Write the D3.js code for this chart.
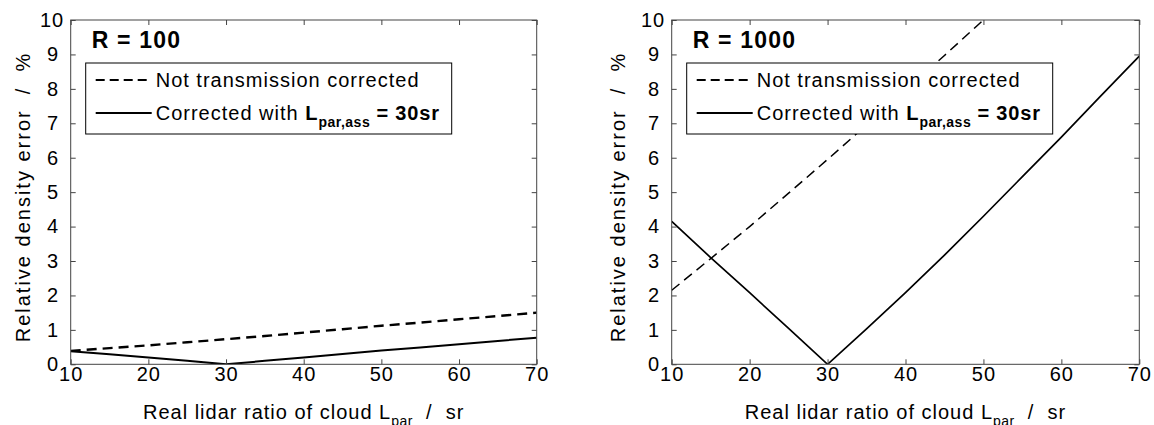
<!DOCTYPE html>
<html>
<head>
<meta charset="utf-8">
<script src="https://cdn.jsdelivr.net/npm/d3@7"></script>
<style>
  html, body { margin: 0; padding: 0; background: #fff; }
  svg { display: block; font-family: "Liberation Sans", Arial, sans-serif; }
</style>
</head>
<body>
<svg id="fig" width="1154" height="425"></svg>
<script>
// Real lidar ratio of the cloud (sr) at which the error was evaluated
const lidarRatio = [10, 15, 20, 25, 30, 35, 40, 45, 50, 55, 60, 65, 70];

// R = 100: relative density error (%)
const r100Uncorrected = [0.39, 0.47, 0.55, 0.64, 0.73, 0.82, 0.92, 1.02, 1.12, 1.21, 1.31, 1.40, 1.50];
const r100Corrected   = [0.38, 0.29, 0.20, 0.10, 0.00, 0.10, 0.20, 0.30, 0.40, 0.49, 0.58, 0.68, 0.77];

// R = 1000: relative density error (%)
const r1000Uncorrected = [2.15, 3.07, 4.00, 4.97, 5.95, 6.95, 7.95, 8.97, 10.0, 11.05, 12.1, 13.15, 14.2];
const r1000Corrected   = [4.15, 3.10, 2.08, 1.04, 0.00, 1.03, 2.08, 3.17, 4.30, 5.45, 6.60, 7.78, 8.95];

const xTicks = [10, 20, 30, 40, 50, 60, 70];
const yTicks = [0, 1, 2, 3, 4, 5, 6, 7, 8, 9, 10];

const panels = [
  { title: "R = 100",  left: 70.7,  right: 536.7,  uncorrected: r100Uncorrected,  corrected: r100Corrected,
    dashW: 2.4, solidW: 2.0, yTitleOff: 41 },
  { title: "R = 1000", left: 671.7, right: 1139.3, uncorrected: r1000Uncorrected, corrected: r1000Corrected,
    dashW: 1.5, solidW: 1.7, yTitleOff: 47 }
];

const plotTop = 20, plotBottom = 364.3;
const svg = d3.select("#fig");
const axisColor = "#444";
const tickLen = 5;
const fontSize = 20, spacing = 1;

panels.forEach((p, i) => {
  const x = d3.scaleLinear().domain([10, 70]).range([p.left, p.right]);
  const y = d3.scaleLinear().domain([0, 10]).range([plotBottom, plotTop]);
  const g = svg.append("g");

  const clipId = "clip" + i;
  svg.append("clipPath").attr("id", clipId)
    .append("rect").attr("x", p.left).attr("y", plotTop)
    .attr("width", p.right - p.left).attr("height", plotBottom - plotTop);

  // data lines
  const line = d3.line().x((d, k) => x(lidarRatio[k])).y(d => y(d));
  g.append("path").datum(p.uncorrected)
    .attr("clip-path", `url(#${clipId})`)
    .attr("d", line).attr("fill", "none").attr("stroke", "#000")
    .attr("stroke-width", p.dashW).attr("stroke-dasharray", "10,6");
  g.append("path").datum(p.corrected)
    .attr("clip-path", `url(#${clipId})`)
    .attr("d", line).attr("fill", "none").attr("stroke", "#000")
    .attr("stroke-width", p.solidW);

  // axes with inward ticks on all four sides
  const bottomAxis = d3.axisBottom(x).tickValues(xTicks).tickSize(-tickLen).tickPadding(2).tickFormat(d3.format("d"));
  const topAxis = d3.axisTop(x).tickValues(xTicks).tickSize(-tickLen).tickFormat("");
  const leftAxis = d3.axisLeft(y).tickValues(yTicks).tickSize(-tickLen).tickPadding(11.5).tickFormat(d3.format("d"));
  const rightAxis = d3.axisRight(y).tickValues(yTicks).tickSize(-tickLen).tickFormat("");

  const styleAxis = sel => {
    sel.selectAll("path, line").attr("stroke", axisColor).attr("stroke-width", 1);
    sel.selectAll("text").attr("fill", "#000").attr("font-size", fontSize)
      .attr("letter-spacing", spacing)
      .attr("font-family", "'Liberation Sans', Arial, sans-serif");
    sel.select(".domain").remove();
  };
  g.append("g").attr("transform", `translate(0,${plotBottom})`).call(bottomAxis).call(styleAxis);
  g.append("g").attr("transform", `translate(0,${plotTop})`).call(topAxis).call(styleAxis);
  const yAxisG = g.append("g").attr("transform", `translate(${p.left},0)`).call(leftAxis).call(styleAxis);
  // the two-digit top label sits closer to the axis
  yAxisG.selectAll(".tick text").filter(d => d >= 10).attr("x", -6.5);
  g.append("g").attr("transform", `translate(${p.right},0)`).call(rightAxis).call(styleAxis);

  // frame
  g.append("rect").attr("x", p.left).attr("y", plotTop)
    .attr("width", p.right - p.left).attr("height", plotBottom - plotTop)
    .attr("fill", "none").attr("stroke", axisColor).attr("stroke-width", 1);

  // panel label
  g.append("text").attr("x", p.left + 21).attr("y", 48)
    .attr("font-size", 23).attr("font-weight", "bold").attr("letter-spacing", 1.2).text(p.title);

  // legend
  const lx = p.left + 15, ly = 63, lw = 366, lh = 71;
  g.append("rect").attr("x", lx).attr("y", ly).attr("width", lw).attr("height", lh)
    .attr("fill", "#fff").attr("stroke", "#000").attr("stroke-width", 1);
  g.append("line").attr("x1", lx + 10).attr("x2", lx + 66).attr("y1", ly + 17).attr("y2", ly + 17)
    .attr("stroke", "#000").attr("stroke-width", 1.8).attr("stroke-dasharray", "9,5");
  g.append("line").attr("x1", lx + 10).attr("x2", lx + 66).attr("y1", ly + 50).attr("y2", ly + 50)
    .attr("stroke", "#000").attr("stroke-width", 1.8);
  g.append("text").attr("x", lx + 70).attr("y", ly + 24).attr("font-size", fontSize)
    .attr("letter-spacing", spacing).text("Not transmission corrected");
  const t2 = g.append("text").attr("x", lx + 70).attr("y", ly + 57).attr("font-size", fontSize)
    .attr("letter-spacing", spacing);
  t2.append("tspan").text("Corrected with ");
  t2.append("tspan").attr("font-weight", "bold").text("L");
  t2.append("tspan").attr("font-weight", "bold").attr("font-size", 14).attr("letter-spacing", 0.5)
    .attr("dy", 7).text("par,ass");
  t2.append("tspan").attr("font-weight", "bold").attr("letter-spacing", 0.8).attr("dy", -7).text(" = 30sr");

  // axis titles
  const xt = g.append("text").attr("x", (p.left + p.right) / 2).attr("y", 419)
    .attr("text-anchor", "middle").attr("font-size", fontSize).attr("letter-spacing", spacing);
  xt.append("tspan").text("Real lidar ratio of cloud L");
  xt.append("tspan").attr("font-size", 14).attr("letter-spacing", 0.5).attr("dy", 7).text("par");
  xt.append("tspan").attr("dy", -7).text("\u00a0\u00a0/\u00a0\u00a0sr");

  g.append("text")
    .attr("transform", `translate(${p.left - p.yTitleOff},197) rotate(-90)`)
    .attr("text-anchor", "middle").attr("font-size", 20).attr("letter-spacing", 2)
    .text("Relative density error\u00a0\u00a0/\u00a0\u00a0%");
});
</script>
</body>
</html>
